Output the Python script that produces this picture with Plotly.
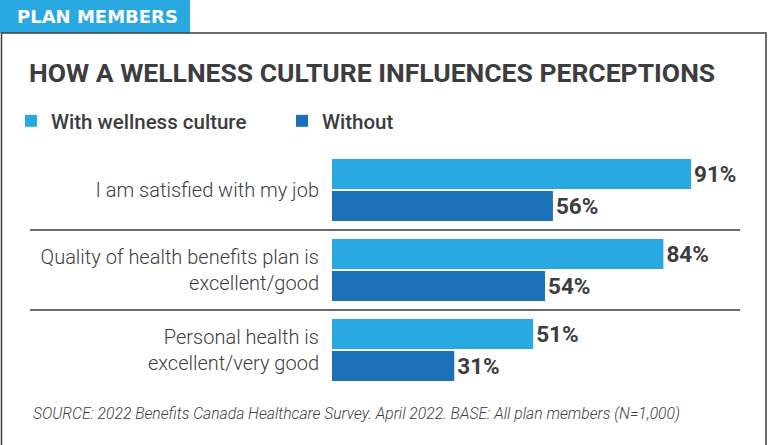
import plotly.graph_objects as go

categories = [
    "I am satisfied with my job",
    "Quality of health benefits plan is<br>excellent/good",
    "Personal health is<br>excellent/very good",
]
with_culture = [91, 84, 51]
without_culture = [56, 54, 31]
series_names = ["With wellness culture", "Without"]

W, H = 775, 445
LIGHT = "#29a8e1"
DARK = "#1c71b9"
INK = "#3d3d3f"
COND = "Roboto, sans-serif"


def px(x):
    return x / W


def py(y):
    return 1 - y / H


fig = go.Figure()
for name, vals, col in [(series_names[0], with_culture, LIGHT), (series_names[1], without_culture, DARK)]:
    fig.add_trace(go.Bar(
        y=categories, x=vals, name=name, orientation="h",
        marker=dict(color=col, line=dict(width=0)),
        texttemplate="<b>%{x}%</b>", textposition="outside",
        textfont=dict(family=COND, size=22.5, color=INK),
        cliponaxis=False, constraintext="none",
    ))

x0, x1 = 332, 740
scale = 3.945
fig.update_layout(
    width=W, height=H, autosize=False,
    margin=dict(l=0, r=0, t=0, b=0),
    paper_bgcolor="white", plot_bgcolor="white",
    barmode="group", bargap=0.2, bargroupgap=0.0625,
    showlegend=True,
    legend=dict(
        orientation="h", x=px(11), y=py(121), xanchor="left", yanchor="middle",
        font=dict(family=COND, size=20.5, color=INK, weight=500),
        entrywidth=226, entrywidthmode="pixels",
        bgcolor="rgba(0,0,0,0)", traceorder="normal",
    ),
    xaxis=dict(domain=[px(x0), px(x1)], range=[0, (x1 - x0) / scale],
               visible=False, fixedrange=True),
    yaxis=dict(domain=[py(390), py(150)], range=[2.5, -0.5],
               showline=False, showgrid=False, zeroline=False, ticks="",
               ticklabelstandoff=12, automargin=False, fixedrange=True,
               tickfont=dict(family=COND, size=20, color=INK, weight=300)),
)

shapes = [
    # header tab
    dict(type="rect", xref="paper", yref="paper", x0=px(0), x1=px(190), y0=py(0), y1=py(33),
         fillcolor=LIGHT, line=dict(width=0), layer="below"),
    # frame
    dict(type="path", xref="paper", yref="paper",
         path=f"M {px(1.5)} {py(460)} L {px(1.5)} {py(33)} L {px(766)} {py(33)} L {px(766)} {py(460)}",
         line=dict(color=INK, width=1.5)),
]
for b in [0.5, 1.5]:
    shapes.append(dict(type="line", xref="paper", yref="y", x0=px(30), x1=px(740), y0=b, y1=b,
                       line=dict(color=INK, width=1.5)))
fig.update_layout(shapes=shapes)

fig.add_annotation(text="<b>PLAN MEMBERS</b>", xref="paper", yref="paper", x=px(15), y=py(16.5),
                   xanchor="left", yanchor="middle", showarrow=False,
                   font=dict(family="DejaVu Sans, sans-serif", size=18, color="white"))
fig.add_annotation(text="<b>HOW A WELLNESS CULTURE INFLUENCES PERCEPTIONS</b>", xref="paper", yref="paper",
                   x=px(27), y=py(72), xanchor="left", yanchor="middle", showarrow=False,
                   font=dict(family=COND, size=26.5, color=INK, weight=900))
fig.add_annotation(text="<i>SOURCE: 2022 Benefits Canada Healthcare Survey. April 2022. BASE: All plan members (N=1,000)</i>",
                   xref="paper", yref="paper", x=px(31), y=py(413), xanchor="left", yanchor="middle",
                   showarrow=False, font=dict(family=COND, size=15.7, color=INK, weight=300))

fig.write_html("out.html", config={"displayModeBar": False},
               post_script="document.body.style.margin='0';")
